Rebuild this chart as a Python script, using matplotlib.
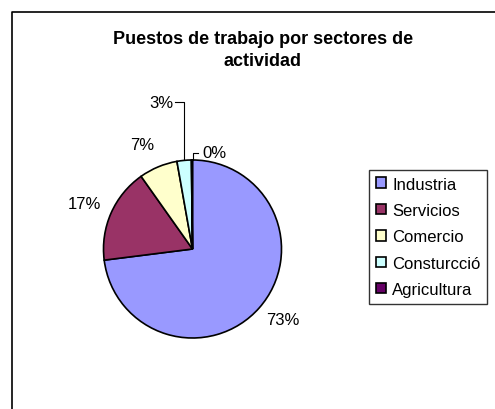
import matplotlib
matplotlib.use('Agg')
import matplotlib.pyplot as plt
from matplotlib.lines import Line2D

plt.rcParams['font.family'] = ['Liberation Sans', 'DejaVu Sans']

# Data
sectores = ['Industria', 'Servicios', 'Comercio', 'Consturcció', 'Agricultura']
puestos = [73.0, 17.2, 7.0, 2.6, 0.2]
colores = ['#9999FF', '#993366', '#FFFFCC', '#CCFFFF', '#660066']

W, H = 495, 410
fig = plt.figure(figsize=(W / 100, H / 100), dpi=100, facecolor='white')
ax = fig.add_axes([0, 0, 1, 1])

# pixel coords, y measured from top -> flip
def py(y):
    return H - y

cx, cy, r = 192.5, 250, 89
wedges, _ = ax.pie(puestos, colors=colores, startangle=90, counterclock=False,
                   center=(cx, py(cy)), radius=r,
                   wedgeprops=dict(edgecolor='black', linewidth=1.2))
ax.set_xlim(0, W)
ax.set_ylim(0, H)
ax.set_aspect('equal')
ax.axis('off')

total = sum(puestos)
pcts = ['%d%%' % round(v / total * 100) for v in puestos]

# label positions (Excel style)
label_pos = [(283, 321), (84, 205), (142, 146), (161, 103), (214, 154)]
for txt, (x, y) in zip(pcts, label_pos):
    ax.text(x, py(y), txt, fontsize=12, ha='center', va='center')

# leader lines
ax.plot([175, 183.5, 183.5], [py(103), py(103), py(160)], color='black', lw=0.8)
ax.plot([198, 193, 193], [py(154), py(154), py(161)], color='black', lw=0.8)

# title
fig.text(263 / W, 1 - 40 / H, 'Puestos de trabajo por sectores de',
         fontsize=13, fontweight='bold', ha='center', va='center')
fig.text(263 / W, 1 - 61 / H, 'actividad',
         fontsize=13, fontweight='bold', ha='center', va='center')

# chart border (left and top visible)
fig.add_artist(Line2D([11.5 / W, 11.5 / W, 1], [0, 1 - 13 / H, 1 - 13 / H],
                      color='black', lw=1.2, transform=fig.transFigure))

leg = ax.legend(wedges, sectores, loc='upper left',
                bbox_to_anchor=(369 / W, 1 - 171 / H), bbox_transform=fig.transFigure,
                fontsize=12, frameon=True, fancybox=False, borderaxespad=0,
                handlelength=0.6, handleheight=0.6, handletextpad=0.4,
                labelspacing=0.68, borderpad=0.4)
leg.get_frame().set_edgecolor('black')
leg.get_frame().set_linewidth(1.0)

fig.savefig('out.png', dpi=100)
